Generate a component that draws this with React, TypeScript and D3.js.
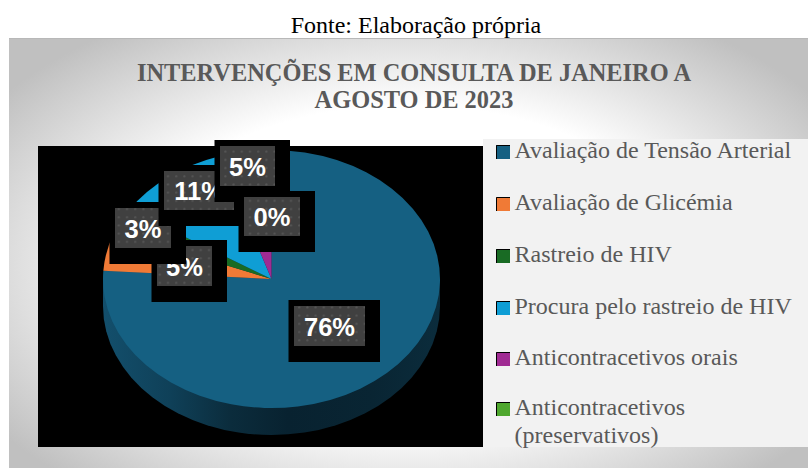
import React from "react";
import * as d3 from "d3";

const categories = [
  "Avaliação de Tensão Arterial",
  "Avaliação de Glicémia",
  "Rastreio de HIV",
  "Procura pelo rastreio de HIV",
  "Anticontracetivos orais",
  "Anticontracetivos (preservativos)",
];
const values = [76, 5, 3, 11, 5, 0];
const colors = ["#156082", "#F07A36", "#196B24", "#0F9ED5", "#A02B93", "#4EA72E"];
const legendLines = [
  ["Avaliação de Tensão Arterial"],
  ["Avaliação de Glicémia"],
  ["Rastreio de HIV"],
  ["Procura pelo rastreio de HIV"],
  ["Anticontracetivos orais"],
  ["Anticontracetivos", "(preservativos)"],
];
const titleLines = ["INTERVENÇÕES EM CONSULTA DE JANEIRO A", "AGOSTO DE 2023"];
const sourceText = "Fonte: Elaboração própria";

// layout (label boxes: grey rectangle x, y, w, h)
const labelBoxes = [
  [294, 306, 71, 40],
  [157, 246, 55, 40],
  [115, 208, 56, 40],
  [164, 171, 70, 39],
  [220, 146, 55, 40],
  [244, 197, 56, 39],
];
const legendBaselines = [158, 210, 262, 314, 365, 415];
const W = 808, H = 468;
const cx = 271.5, cy = 279, rx = 168.5, ry = 129, depth = 27;

export default function App() {
  const pie = d3.pie<number>().sort(null).startAngle(0).endAngle(2 * Math.PI);
  const arcs = pie(values);
  const arc = d3.arc<d3.PieArcDatum<number>>().innerRadius(0).outerRadius(1);
  const pct = d3.format(".0%");
  const total = d3.sum(values);

  return (
    <svg
      width={W}
      height={H}
      viewBox={`0 0 ${W} ${H}`}
      style={{ position: "absolute", left: 0, top: 0, display: "block" }}
    >
      <defs>
        <radialGradient
          id="bg"
          gradientUnits="userSpaceOnUse"
          cx={0}
          cy={0}
          r={1}
          gradientTransform="translate(408 265) scale(500 290)"
        >
          <stop offset="0" stopColor="#ffffff" />
          <stop offset="0.55" stopColor="#ffffff" />
          <stop offset="1" stopColor="#c0c0c0" />
        </radialGradient>
        <linearGradient id="wall" gradientUnits="userSpaceOnUse" x1={cx - rx} x2={cx + rx} y1={0} y2={0}>
          <stop offset="0" stopColor="#134f6c" />
          <stop offset="0.2" stopColor="#0f4058" />
          <stop offset="0.38" stopColor="#0b2c3c" />
          <stop offset="0.55" stopColor="#082230" />
          <stop offset="0.8" stopColor="#092533" />
          <stop offset="1" stopColor="#0b2c3c" />
        </linearGradient>
        <pattern id="dots" width={8.2} height={8.2} patternUnits="userSpaceOnUse">
          <rect width={8.2} height={8.2} fill="#404040" />
          <circle cx={4} cy={4} r={1.1} fill="#565656" />
        </pattern>
      </defs>

      <rect x={0} y={0} width={W} height={H} fill="#ffffff" />
      <text x={416} y={33} textAnchor="middle" fontFamily="'Liberation Serif'" fontSize={24} fill="#000">
        {sourceText}
      </text>

      <rect x={9} y={38.5} width={W - 9} height={H - 38.5} fill="url(#bg)" />
      <line x1={9} x2={W} y1={38.5} y2={38.5} stroke="#b8b8b8" />

      {titleLines.map((t, i) => (
        <text
          key={t}
          x={414}
          y={81 + i * 27}
          textAnchor="middle"
          fontFamily="'Liberation Serif'"
          fontWeight="bold"
          fontSize={24.4}
          fill="#595959"
        >
          {t}
        </text>
      ))}

      <rect x={38} y={146} width={445} height={301} fill="#000" />
      <rect x={483} y={139} width={325} height={308} fill="#f2f2f2" />

      {/* 3D wall */}
      <g fill="url(#wall)">
        <ellipse cx={cx} cy={cy + depth} rx={rx} ry={ry} />
        <rect x={cx - rx} y={cy} width={2 * rx} height={depth} />
      </g>

      {/* top face */}
      <g transform={`translate(${cx} ${cy}) scale(${rx} ${ry})`}>
        {arcs.map((a, i) => (
          <path key={categories[i]} d={arc(a) ?? ""} fill={colors[i]} />
        ))}
      </g>

      {/* data labels */}
      {arcs.map((a, i) => {
        const [x, y, w, h] = labelBoxes[i];
        return (
          <g key={categories[i]}>
            <rect x={x - 5.5} y={y - 6} width={w + 20.5} height={h + 22} fill="#000" />
            <rect x={x} y={y} width={w} height={h} fill="url(#dots)" />
            <text
              x={x + w / 2}
              y={y + h / 2 + 9.5}
              textAnchor="middle"
              fontFamily="'Liberation Sans'"
              fontWeight="bold"
              fontSize={25.5}
              fill="#ffffff"
            >
              {pct(a.data / total)}
            </text>
          </g>
        );
      })}

      {/* legend */}
      {legendLines.map((lines, i) => {
        const b = legendBaselines[i];
        return (
          <g key={categories[i]}>
            <rect x={496} y={b - 13} width={14} height={14} fill={colors[i]} />
            <path d={`M496.5 ${b + 1}V${b - 12.5}H510`} fill="none" stroke="#000" />
            {lines.map((l, j) => (
              <text
                key={l}
                x={514.5}
                y={b + j * 28}
                fontFamily="'Liberation Serif'"
                fontSize={24}
                fill="#595959"
              >
                {l}
              </text>
            ))}
          </g>
        );
      })}
    </svg>
  );
}
